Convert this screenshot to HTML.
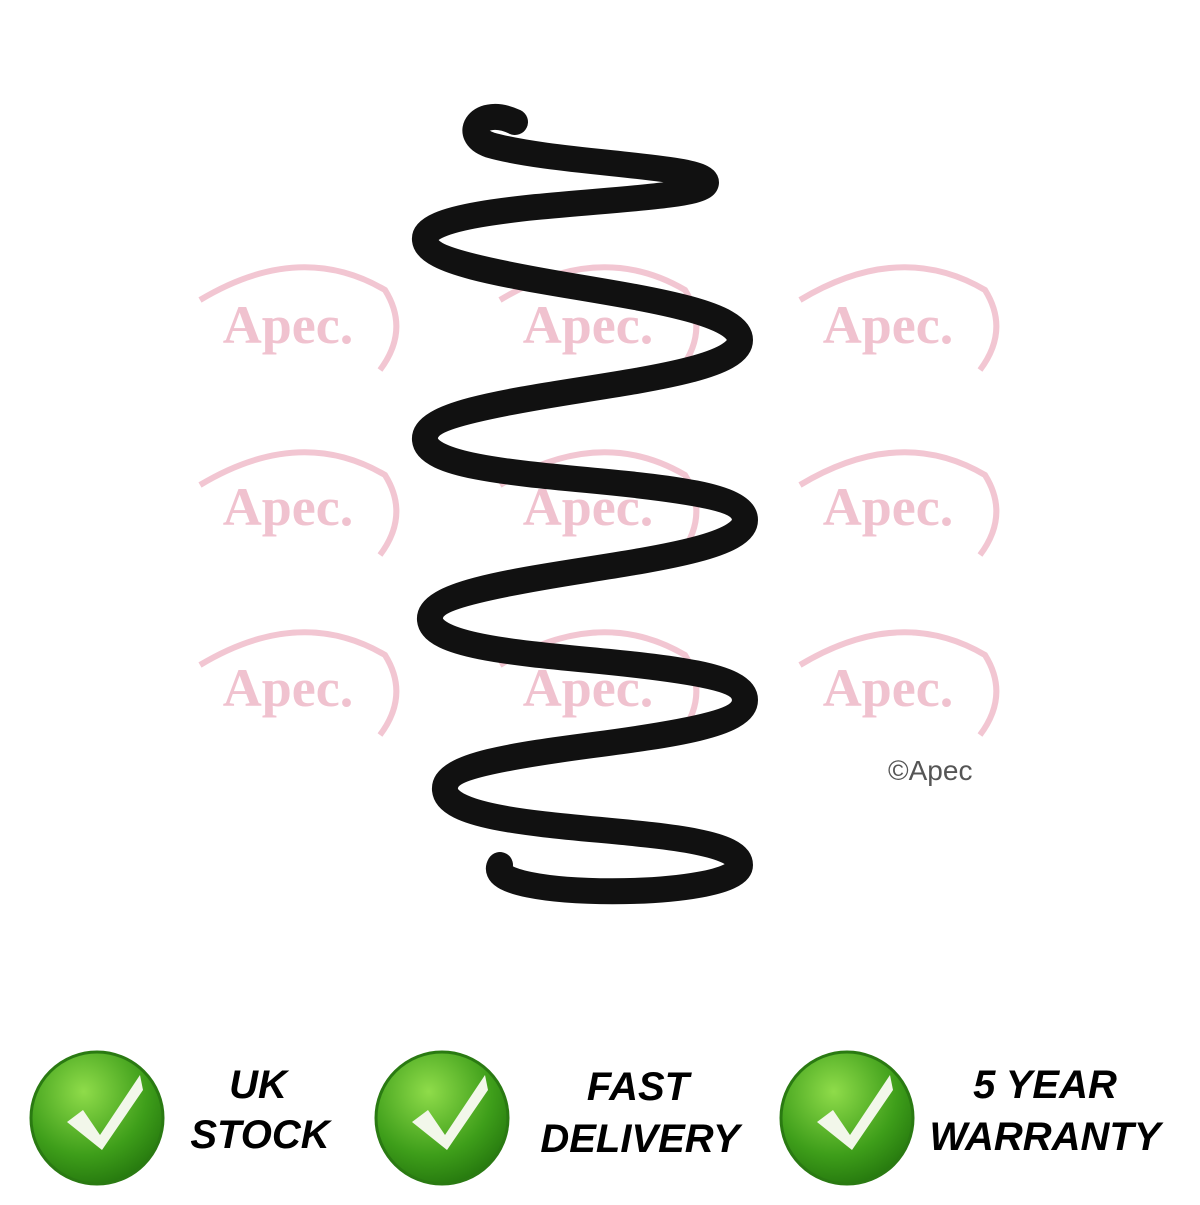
<!DOCTYPE html>
<html><head><style>body{margin:0;background:#fff}</style></head><body>
<svg width="1200" height="1200" viewBox="0 0 1200 1200" xmlns="http://www.w3.org/2000/svg">
<defs>
<radialGradient id="g" cx="0.4" cy="0.3" r="0.8">
<stop offset="0" stop-color="#8fdc4a"/><stop offset="0.6" stop-color="#3e9e1a"/><stop offset="1" stop-color="#1f6e0b"/>
</radialGradient>
</defs>
<g fill="none" stroke="#f2c6d2" stroke-width="6">
<path d="M200 300 Q300 240 385 290 Q410 330 380 370"/>
<path d="M500 300 Q600 240 685 290 Q710 330 680 370"/>
<path d="M800 300 Q900 240 985 290 Q1010 330 980 370"/>
<path d="M200 485 Q300 425 385 475 Q410 515 380 555"/>
<path d="M500 485 Q600 425 685 475 Q710 515 680 555"/>
<path d="M800 485 Q900 425 985 475 Q1010 515 980 555"/>
<path d="M200 665 Q300 605 385 655 Q410 695 380 735"/>
<path d="M500 665 Q600 605 685 655 Q710 695 680 735"/>
<path d="M800 665 Q900 605 985 655 Q1010 695 980 735"/>
</g>
<g font-family="Liberation Serif, serif" font-size="54" font-weight="bold" fill="#f0c2cf" text-anchor="middle">
<text x="288" y="343">Apec.</text><text x="588" y="343">Apec.</text><text x="888" y="343">Apec.</text>
<text x="288" y="525">Apec.</text><text x="588" y="525">Apec.</text><text x="888" y="525">Apec.</text>
<text x="288" y="706">Apec.</text><text x="588" y="706">Apec.</text><text x="888" y="706">Apec.</text>
</g>
<text x="888" y="780" font-family="Liberation Sans, sans-serif" font-size="28" fill="#555">©Apec</text>
<path d="M515 122 C480 105,460 135,490 145 C560 165,720 165,705 185 C690 205,420 200,425 240 C430 285,740 290,740 340 C740 390,420 390,425 440 C430 490,745 470,745 520 C745 570,425 570,430 620 C435 670,745 650,745 700 C745 750,440 740,445 790 C450 840,740 820,740 865 C740 900,480 900,500 865" fill="none" stroke="#111" stroke-width="26" stroke-linecap="round"/>
<g>
<circle cx="97" cy="1118" r="66" fill="url(#g)" stroke="#2a7a12" stroke-width="3"/>
<circle cx="442" cy="1118" r="66" fill="url(#g)" stroke="#2a7a12" stroke-width="3"/>
<circle cx="847" cy="1118" r="66" fill="url(#g)" stroke="#2a7a12" stroke-width="3"/>
<g fill="#f2f7ea">
<path d="M67 1122 L83 1110 L100 1135 L140 1075 L143 1090 L102 1150 Z"/>
<path d="M412 1122 L428 1110 L445 1135 L485 1075 L488 1090 L447 1150 Z"/>
<path d="M817 1122 L833 1110 L850 1135 L890 1075 L893 1090 L852 1150 Z"/>
</g>
</g>
<g font-family="Liberation Sans, sans-serif" font-size="40" font-weight="bold" font-style="italic" fill="#000" text-anchor="middle">
<text x="258" y="1098">UK</text><text x="260" y="1148">STOCK</text>
<text x="638" y="1100">FAST</text><text x="640" y="1152">DELIVERY</text>
<text x="1045" y="1098">5 YEAR</text><text x="1045" y="1150">WARRANTY</text>
</g>
</svg>
</body></html>
